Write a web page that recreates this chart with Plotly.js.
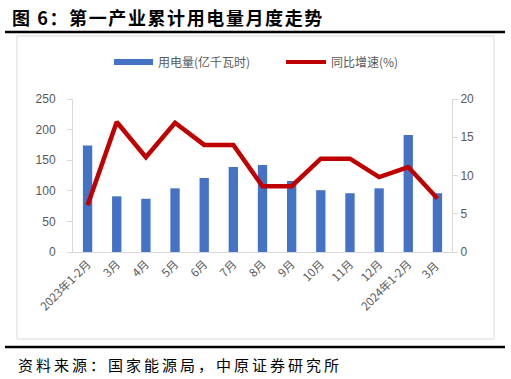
<!DOCTYPE html>
<html><head><meta charset="utf-8">
<script src="https://cdn.plot.ly/plotly-3.0.1.min.js"></script>
<style>html,body{margin:0;padding:0;background:#fff}#c{width:511px;height:379px}</style>
</head><body><div id="c"></div>
<script>
const categories = ["2023年1-2月","3月","4月","5月","6月","7月","8月","9月","10月","11月","12月","2024年1-2月","3月 "];
const usage = [174, 91, 87, 104, 121, 139, 142, 116, 101, 96, 104, 191, 96];
const growth = [6.1, 17.0, 12.4, 16.9, 14.0, 14.0, 8.6, 8.6, 12.2, 12.2, 9.8, 11.1, 7.0];
const leftTicks = [0, 50, 100, 150, 200, 250];
const rightTicks = [0, 5, 10, 15, 20];
const usageName = "用电量(亿千瓦时)";
const growthName = "同比增速(%)";
const titleText = "图 6：第一产业累计用电量月度走势";
const sourceText = "资料来源：国家能源局，中原证券研究所";

const cjk = "Noto Sans CJK SC, sans-serif";
const tickFont = {family: "Liberation Sans, Noto Sans CJK SC, sans-serif", size: 12, color: "#595959"};

const data = [
  {type: "bar", x: categories, y: usage, name: usageName, marker: {color: "#4472C4"}, yaxis: "y", showlegend: false},
  {type: "scatter", mode: "lines", x: categories, y: growth, name: growthName, line: {color: "#C00000", width: 4.5}, yaxis: "y2", showlegend: false}
];

const layout = {
  width: 511, height: 379,
  margin: {l: 73, r: 59, t: 99, b: 127},
  paper_bgcolor: "#fff", plot_bgcolor: "#fff",
  bargap: 0.68,
  xaxis: {type: "category", tickangle: -45, tickfont: {family: cjk, size: 11.5, color: "#595959"},
          showline: true, linecolor: "#d9d9d9", linewidth: 1, ticks: "", showgrid: false, zeroline: false, fixedrange: true},
  yaxis: {range: [0, 250], tickvals: leftTicks, ticks: "outside", ticklen: 5, tickcolor: "#d9d9d9", ticklabelstandoff: 9,
          showline: true, linecolor: "#d9d9d9", showgrid: false, zeroline: false, tickfont: tickFont},
  yaxis2: {range: [0, 20], tickvals: rightTicks, overlaying: "y", side: "right", ticks: "outside", ticklen: 5, tickcolor: "#d9d9d9",
           showline: true, linecolor: "#d9d9d9", showgrid: false, zeroline: false, tickfont: tickFont},
  shapes: [
    {type: "line", xref: "x domain", yref: "y domain", x0: (5-73)/379, x1: (505-73)/379, y0: (252-32)/153, y1: (252-32)/153, line: {color: "#000", width: 2.5}},
    {type: "line", xref: "x domain", yref: "y domain", x0: (5-73)/379, x1: (505-73)/379, y0: (252-347)/153, y1: (252-347)/153, line: {color: "#000", width: 2.5}},
    {type: "rect", xref: "x domain", yref: "y domain", x0: (17-73)/379, x1: (494-73)/379, y0: (252-339)/153, y1: (252-36)/153, line: {color: "#d9d9d9", width: 1}},
    {type: "rect", xref: "x domain", yref: "y domain", x0: (114-73)/379, x1: (153-73)/379, y0: (252-59)/153, y1: (252-65)/153, fillcolor: "#4472C4", line: {width: 0}},
    {type: "line", xref: "x domain", yref: "y domain", x0: (286-73)/379, x1: (326-73)/379, y0: (252-62)/153, y1: (252-62)/153, line: {color: "#C00000", width: 4}}
  ],
  annotations: [
    {xref: "x domain", yref: "y domain", x: (12-73)/379, y: (252-17)/153, xanchor: "left", yanchor: "middle", showarrow: false,
     text: "<b>" + titleText + "</b>", font: {family: cjk, size: 18, color: "#000"}},
    {xref: "x domain", yref: "y domain", x: (16-73)/379, y: (252-364)/153, xanchor: "left", yanchor: "middle", showarrow: false,
     text: sourceText, font: {family: cjk, size: 15, color: "#000"}},
    {xref: "x domain", yref: "y domain", x: (156-73)/379, y: (252-62)/153, xanchor: "left", yanchor: "middle", showarrow: false,
     text: usageName, font: {family: cjk, size: 12, color: "#595959"}},
    {xref: "x domain", yref: "y domain", x: (329-73)/379, y: (252-62)/153, xanchor: "left", yanchor: "middle", showarrow: false,
     text: growthName, font: {family: cjk, size: 12, color: "#595959"}}
  ]
};
Plotly.newPlot("c", data, layout, {staticPlot: true, displayModeBar: false}).then(function(gd){
  const texts = gd.querySelectorAll(".annotation-text");
  const host = gd.getBoundingClientRect();
  texts.forEach(function(t){
    const s = t.textContent;
    let sp = null, left = null;
    if (s === titleText) { sp = "1.6px"; left = 12; }
    if (s === sourceText) { sp = "3px"; left = 18; }
    if (sp) {
      t.style.letterSpacing = sp;
      const r = t.getBoundingClientRect();
      const dx = left - (r.left - host.left);
      t.setAttribute("transform", "translate(" + dx + ",0)");
    }
  });
});
</script></body></html>
